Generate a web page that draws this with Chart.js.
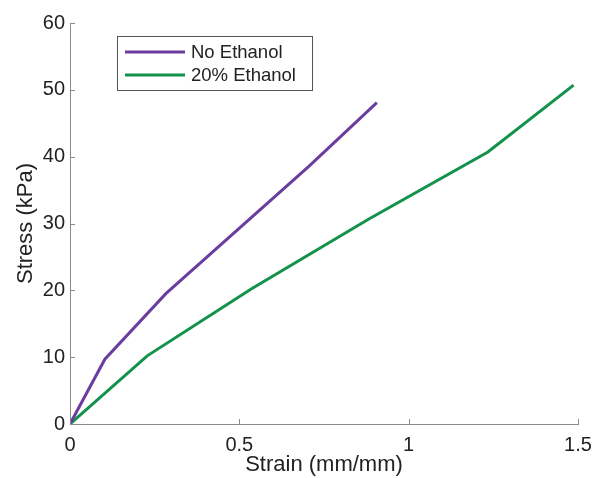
<!DOCTYPE html>
<html>
<head>
<meta charset="utf-8">
<script src="https://cdn.jsdelivr.net/npm/chart.js@4.4.1/dist/chart.umd.min.js"></script>
<style>
  html, body { margin: 0; padding: 0; background: #fff; }
  #wrap { width: 606px; height: 478px; }
</style>
</head>
<body>
<div id="wrap"><canvas id="stressChart" width="606" height="478"></canvas></div>
<script>
const noEthanolStrain = [0, 0.103, 0.283, 0.706, 0.906];
const noEthanolStress = [0, 9.7, 19.5, 38.6, 48.1];
const ethanolStrain = [0, 0.228, 0.535, 0.88, 1.234, 1.487];
const ethanolStress = [0, 10.2, 20.2, 30.6, 40.7, 50.7];
const xTicks = [0, 0.5, 1, 1.5];
const yTicks = [0, 10, 20, 30, 40, 50, 60];

const toPoints = (xs, ys) => xs.map((x, i) => ({ x: x, y: ys[i] }));

// matlab-like inward tick marks
const innerTicks = {
    id: "innerTicks",
    afterDraw(chart) {
        const c = chart.ctx;
        const xs = chart.scales.x, ys = chart.scales.y;
        const area = chart.chartArea;
        c.save();
        c.strokeStyle = "#8a8a8a";
        c.lineWidth = 1;
        c.beginPath();
        xTicks.forEach(v => {
            const px = Math.round(xs.getPixelForValue(v)) + 0.5;
            c.moveTo(px, area.bottom);
            c.lineTo(px, area.bottom - 5);
        });
        yTicks.forEach(v => {
            const py = Math.round(ys.getPixelForValue(v)) + 0.5;
            c.moveTo(area.left, py);
            c.lineTo(area.left + 5, py);
        });
        c.stroke();
        c.restore();
    }
};

const ctx = document.getElementById("stressChart").getContext("2d");
const chart = new Chart(ctx, {
    type: "scatter",
    data: {
        datasets: [
            {
                label: "No Ethanol",
                data: toPoints(noEthanolStrain, noEthanolStress),
                showLine: true,
                borderColor: "#6a3d9e",
                backgroundColor: "#6a3d9e",
                borderWidth: 3,
                pointRadius: 0,
                tension: 0,
            },
            {
                label: "20% Ethanol",
                data: toPoints(ethanolStrain, ethanolStress),
                showLine: true,
                borderColor: "#12924a",
                backgroundColor: "#12924a",
                borderWidth: 3,
                pointRadius: 0,
                tension: 0,
            },
        ],
    },
    options: {
        responsive: false,
        animation: false,
        layout: { padding: { top: 23, right: 28, left: 0, bottom: 0 } },
        plugins: {
            legend: { display: false },
            tooltip: { enabled: false },
        },
        scales: {
            x: {
                type: "linear",
                min: 0,
                max: 1.5,
                afterBuildTicks: s => { s.ticks = xTicks.map(v => ({ value: v })); },
                afterFit: s => { s.height = 54; },
                grid: { display: false, drawTicks: false },
                border: { display: true, color: "#8a8a8a", width: 1 },
                ticks: {
                    padding: 9,
                    color: "#222",
                    font: { family: "Liberation Sans", size: 20 },
                    maxRotation: 0,
                    callback: v => String(v),
                },
                title: {
                    display: true,
                    text: "Strain (mm/mm)",
                    color: "#222",
                    padding: { top: 0, bottom: 0 },
                    font: { family: "Liberation Sans", size: 22 },
                },
            },
            y: {
                min: 0,
                max: 60,
                afterBuildTicks: s => { s.ticks = yTicks.map(v => ({ value: v })); },
                afterFit: s => { s.width = 70; },
                grid: { display: false, drawTicks: false },
                border: { display: true, color: "#8a8a8a", width: 1 },
                ticks: {
                    padding: 5,
                    color: "#222",
                    font: { family: "Liberation Sans", size: 20 },
                },
                title: {
                    display: true,
                    text: "Stress (kPa)",
                    color: "#222",
                    padding: { top: 13, bottom: 0 },
                    font: { family: "Liberation Sans", size: 22 },
                },
            },
        },
    },
    plugins: [innerTicks, {
        // boxed legend in the upper left, like the original figure
        id: "boxLegend",
        afterDraw(chart) {
            const c = chart.ctx;
            c.save();
            c.fillStyle = "#fff";
            c.fillRect(117, 36, 195, 54);
            c.strokeStyle = "#555";
            c.lineWidth = 1;
            c.strokeRect(117.5, 36.5, 195, 54);
            c.font = "18.5px 'Liberation Sans'";
            c.textBaseline = "middle";
            chart.data.datasets.forEach((ds, i) => {
                const y = 52 + i * 23;
                c.strokeStyle = ds.borderColor;
                c.lineWidth = 3;
                c.beginPath();
                c.moveTo(125, y);
                c.lineTo(185, y);
                c.stroke();
                c.fillStyle = "#222";
                c.fillText(ds.label, 191, y + 1);
            });
            c.restore();
        }
    }],
});
</script>
</body>
</html>
